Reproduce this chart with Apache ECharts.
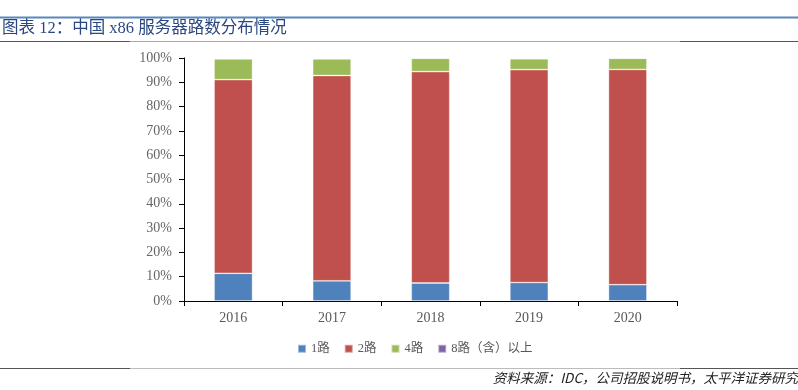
<!DOCTYPE html>
<html><head><meta charset="utf-8">
<script src="https://cdn.jsdelivr.net/npm/echarts@6/dist/echarts.min.js"></script>
<style>html,body{margin:0;padding:0;background:#fff}#c{width:798px;height:390px}</style>
</head><body><div id="c"></div>
<script>
const categories = ['2016','2017','2018','2019','2020'];
const s1 = [11.4, 8.3, 7.4, 7.6, 6.7];
const s2 = [79.7, 84.5, 87.0, 87.6, 88.6];
const s4 = [8.5, 6.8, 5.5, 4.5, 4.6];
const s8 = [0.4, 0.4, 0.1, 0.3, 0.1];
const seriesNames = ['1路','2路','4路','8路（含）以上'];
const colors = ['#4F81BD','#C0504D','#9BBB59','#8064A2'];
const yTicks = [0,10,20,30,40,50,60,70,80,90,100];

const serif = '"Liberation Serif", "DejaVu Serif", "Noto Sans CJK SC", serif';
const chart = echarts.init(document.getElementById('c'));
const data = [s1,s2,s4,s8];
chart.setOption({
  animation:false,
  color: colors,
  grid:{left:184,right:121,top:58,bottom:89},
  legend:{
    data: seriesNames, bottom:30, left:292, itemWidth:8, itemHeight:8, itemGap:14,
    icon:'rect',
    textStyle:{fontFamily:serif,fontSize:12.5,color:'#595959'}
  },
  xAxis:{
    type:'category', data:categories,
    axisLine:{lineStyle:{color:'#000',width:1}},
    axisTick:{show:true,length:5,lineStyle:{color:'#000'}},
    axisLabel:{fontFamily:serif,fontSize:14,color:'#595959',margin:10}
  },
  yAxis:{
    type:'value', min:0, max:100, interval:10,
    axisLine:{show:true,lineStyle:{color:'#000'}},
    axisTick:{show:true,length:5,lineStyle:{color:'#000'}},
    splitLine:{show:false},
    axisLabel:{fontFamily:serif,fontSize:14,color:'#666',margin:12,
      formatter:v=> yTicks.includes(v)? v+'%':''}
  },
  series: seriesNames.map((n,i)=>({
    name:n, type:'bar', stack:'all', data:data[i], barWidth:'39%',
    itemStyle:{color:colors[i],borderColor:'rgba(255,255,255,0.45)',borderWidth:0.8}
  })),
  graphic:[
    {type:'rect',shape:{x:0,y:16.5,width:798,height:2},style:{fill:'#5B87C0'}},
    {type:'text',left:2,top:20,style:{text:'图表 12：中国 x86 服务器路数分布情况',fontFamily:'"Liberation Serif", "Noto Sans CJK SC", serif',fontSize:16.5,fill:'#2a4780'}},
    {type:'rect',shape:{x:0,y:41,width:798,height:1},style:{fill:'#555'}},
    {type:'rect',shape:{x:130,y:41,width:550,height:1},style:{fill:'#aaa'}},
    {type:'rect',shape:{x:0,y:368,width:798,height:1},style:{fill:'#555'}},
    {type:'rect',shape:{x:130,y:368,width:550,height:1},style:{fill:'#bbb'}},
    {type:'text',right:0,top:371,style:{text:'资料来源：IDC，公司招股说明书，太平洋证券研究',fontFamily:'"Noto Sans CJK SC", sans-serif',fontStyle:'italic',fontSize:13.5,fill:'#222'}}
  ]
});
</script></body></html>
